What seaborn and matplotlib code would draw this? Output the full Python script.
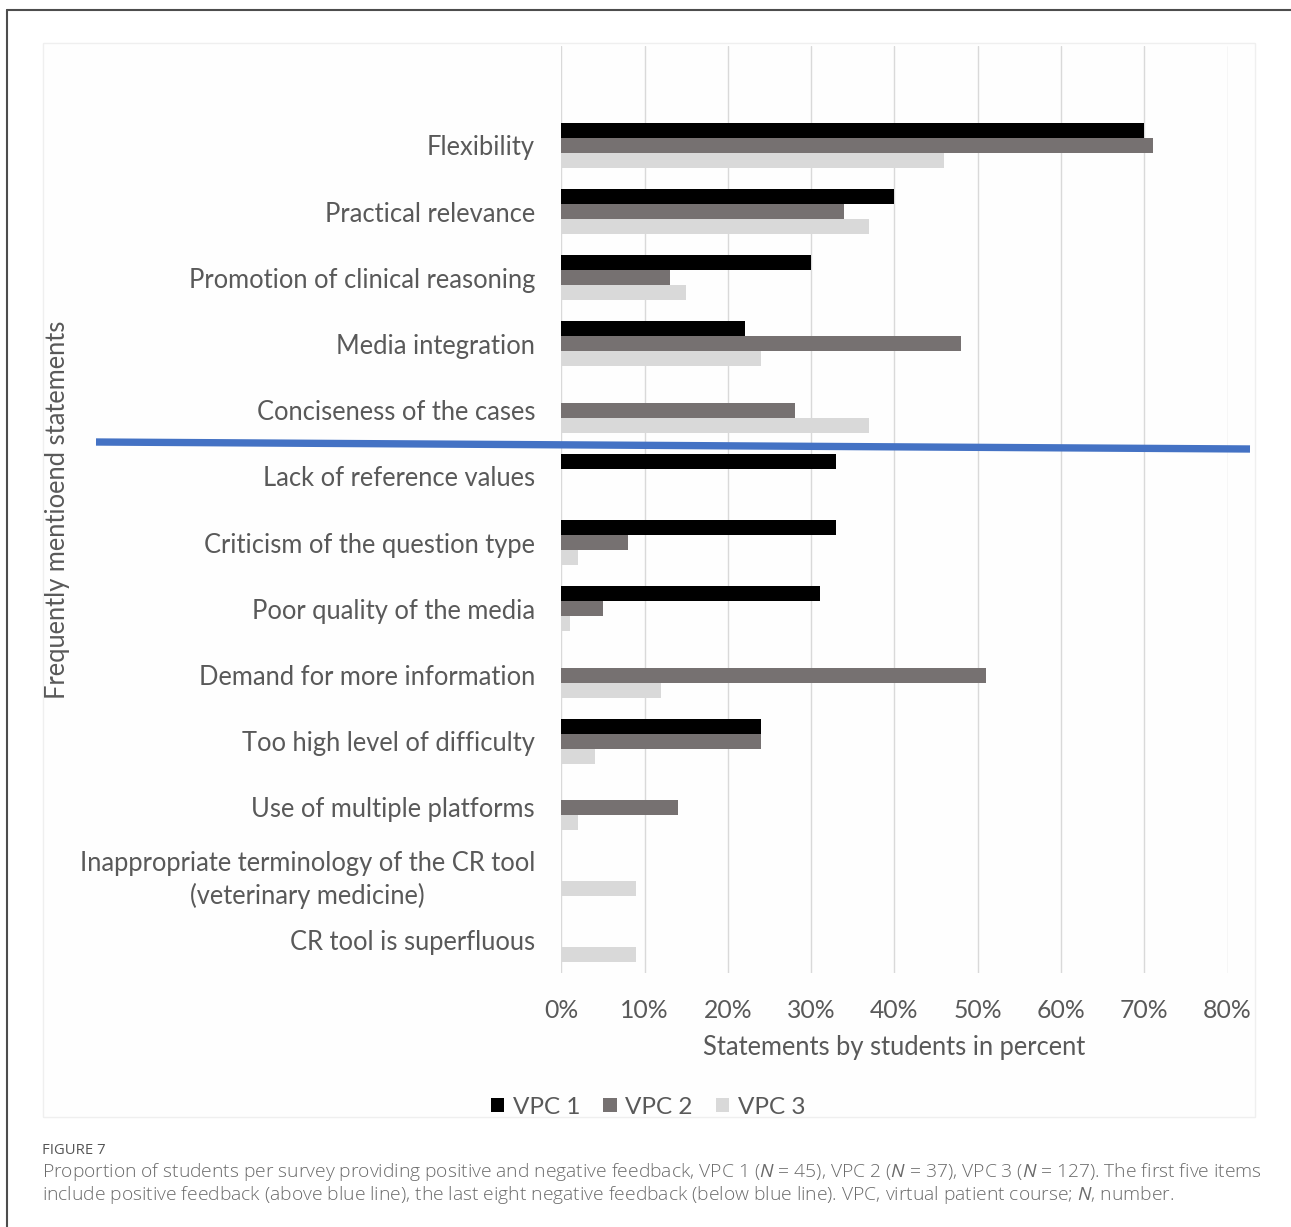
import numpy as np
import pandas as pd
import matplotlib
matplotlib.use("Agg")
import matplotlib.pyplot as plt
import seaborn as sns
from matplotlib.lines import Line2D
from matplotlib.patches import Rectangle

# Statements (top to bottom); first five positive, last eight negative
statements = [
    "Flexibility",
    "Practical relevance",
    "Promotion of clinical reasoning",
    "Media integration",
    "Conciseness of the cases",
    "Lack of reference values",
    "Criticism of the question type",
    "Poor quality of the media",
    "Demand for more information",
    "Too high level of difficulty",
    "Use of multiple platforms",
    "Inappropriate terminology of the CR tool\n(veterinary medicine)",
    "CR tool is superfluous",
]
# Share of students (%) per course
vpc1 = [70, 40, 30, 22, 0, 33, 33, 31, 0, 24, 0, 0, 0]
vpc2 = [71, 34, 13, 48, 28, 0, 8, 5, 51, 24, 14, 0, 0]
vpc3 = [46, 37, 15, 24, 37, 0, 2, 1, 12, 4, 2, 9, 9]
series_names = ["VPC 1", "VPC 2", "VPC 3"]
series_colors = ["#000000", "#767171", "#D9D9D9"]
x_ticks = [0, 10, 20, 30, 40, 50, 60, 70, 80]

rows = []
for name, vals in zip(series_names, [vpc1, vpc2, vpc3]):
    for s, v in zip(statements, vals):
        rows.append({"statement": s, "course": name, "percent": v})
df = pd.DataFrame(rows)

sns.set_theme(style="white")
plt.rcParams["font.family"] = ["Lato", "DejaVu Sans"]
plt.rcParams["mathtext.fontset"] = "custom"
plt.rcParams["mathtext.rm"] = "Open Sans"
plt.rcParams["mathtext.it"] = "Open Sans:italic"

W, H = 1291, 1227
fig = plt.figure(figsize=(W / 100, H / 100), dpi=100)
fig.patch.set_facecolor("white")

# faint chart-area panel
fig.add_artist(Rectangle((43 / W, 1 - 1117 / H), (1255 - 43) / W, (1117 - 43) / H,
                         transform=fig.transFigure, facecolor="#FEFEFE",
                         edgecolor="#EFEFEF", linewidth=1.0, zorder=-5))

ax = fig.add_axes([561.4 / W, 1 - 973 / H, (1227.5 - 561.4) / W, 927 / H])
ax.patch.set_alpha(0)

sns.barplot(data=df, x="percent", y="statement", hue="course",
            order=statements, hue_order=series_names,
            palette=series_colors, saturation=1, orient="h",
            width=0.68, gap=0, linewidth=0, ax=ax)

ax.set_xlim(0, 80)
ax.set_ylim(12.5, -1.5)
ax.set_xticks(x_ticks)
ax.set_xticklabels([f"{t}%" for t in x_ticks])
ax.xaxis.grid(True, color="#D9D9D9", linewidth=1.0)
ax.yaxis.grid(False)
ax.set_axisbelow(True)
for sp in ax.spines.values():
    sp.set_visible(False)

text_color = "#595959"
label_size = 18.4
ax.tick_params(axis="y", length=0, labelsize=label_size, labelcolor=text_color, pad=19)
ax.tick_params(axis="x", length=0, labelsize=17.8, labelcolor=text_color, pad=19)
for lab in ax.get_yticklabels():
    lab.set_multialignment("center")
    lab.set_linespacing(1.36)

ax.set_xlabel("Statements by students in percent", fontsize=label_size, color=text_color)
ax.xaxis.set_label_coords(0.5, (973 - 1047) / 927)
ax.xaxis.label.set_va("center")
ax.set_ylabel("Frequently mentioend statements", fontsize=label_size, color=text_color)
ax.yaxis.set_label_coords((58 - 561.4) / 666.1, 0.5)
ax.yaxis.label.set_va("center")

handles, labels = ax.get_legend_handles_labels()
ax.legend(handles, labels, loc="center", bbox_to_anchor=(648 / W, 1 - 1107 / H),
          bbox_transform=fig.transFigure, ncol=3, frameon=False,
          fontsize=17.5, labelcolor=text_color, handlelength=0.55, handleheight=0.55,
          handletextpad=0.35, columnspacing=0.95, borderaxespad=0)

# divider between positive and negative feedback
fig.add_artist(Line2D([96 / W, 1250 / W], [1 - 442 / H, 1 - 449 / H],
                      color="#4472C4", linewidth=5.3, solid_capstyle="butt",
                      transform=fig.transFigure, zorder=10))

# frame edges
fig.add_artist(Line2D([7 / W, 1.0], [1 - 10 / H, 1 - 10 / H], color="#4D4D4D",
                      linewidth=1.5, transform=fig.transFigure))
fig.add_artist(Line2D([7 / W, 7 / W], [1 - 10 / H, 0.0], color="#4D4D4D",
                      linewidth=1.5, transform=fig.transFigure))

cap_color = "#6B6B6B"
fig.text(42 / W, 1 - 1150 / H, "FIGURE 7", fontsize=10.7, color="#555555",
         va="center", ha="left", family="Open Sans")
line1 = ("Proportion of students per survey providing positive and negative feedback, "
         "VPC 1 ($N$ = 45), VPC 2 ($N$ = 37), VPC 3 ($N$ = 127). The first five items")
line2 = ("include positive feedback (above blue line), the last eight negative feedback "
         "(below blue line). VPC, virtual patient course; $N$, number.")
fig.text(42 / W, 1 - 1172 / H, line1, fontsize=13.85, color=cap_color,
         va="center", ha="left", family="Open Sans", fontweight="light")
fig.text(42 / W, 1 - 1195 / H, line2, fontsize=13.85, color=cap_color,
         va="center", ha="left", family="Open Sans", fontweight="light")

fig.savefig("out.png", dpi=100)
